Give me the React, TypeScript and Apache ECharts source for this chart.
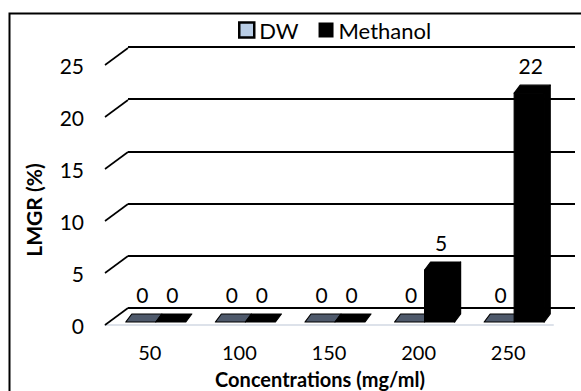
import React, { useEffect, useRef } from "react";
import * as echarts from "echarts";

const categories = ["50", "100", "150", "200", "250"];
const dwValues = [0, 0, 0, 0, 0];
const methanolValues = [0, 0, 0, 5, 22];
const yTicks = [0, 5, 10, 15, 20, 25];

const FONT = "Lato, 'Liberation Sans', sans-serif";

function barRenderer(side: number, fills: { front: string; side: string; top: string }, stroke: string) {
  return (params: any, api: any) => {
    const i = api.value(0);
    const v = api.value(1);
    const base = api.coord([i, 0]);
    const top = api.coord([i, v]);
    const band = api.size([1, 0])[0];
    const W = band * 0.335;
    const ox = 6, oy = -3, dx = 6, dy = -8;
    const xl = base[0] + ox + (side === 0 ? -W : 0);
    const xr = xl + W;
    const yb = base[1] + oy;
    const yt = top[1] + oy;
    const lineStyle = { stroke, lineWidth: 1.2, lineJoin: "round" };
    const children: any[] = [];
    if (yb - yt > 0.5) {
      children.push({
        type: "polygon",
        shape: { points: [[xl, yb], [xr, yb], [xr, yt], [xl, yt]] },
        style: { fill: fills.front, ...lineStyle },
      });
      children.push({
        type: "polygon",
        shape: { points: [[xr, yb], [xr + dx, yb + dy], [xr + dx, yt + dy], [xr, yt]] },
        style: { fill: fills.side, ...lineStyle },
      });
    }
    children.push({
      type: "polygon",
      shape: { points: [[xl, yt], [xr, yt], [xr + dx, yt + dy], [xl + dx, yt + dy]] },
      style: { fill: fills.top, ...lineStyle },
    });
    children.push({
      type: "text",
      style: {
        text: String(v),
        x: (xl + xr) / 2 + 1.5,
        y: yt - 28,
        fill: "#000",
        fontSize: 21,
        fontFamily: FONT,
        align: "center",
        verticalAlign: "middle",
      },
    });
    return { type: "group", children };
  };
}

export default function App() {
  const ref = useRef<HTMLDivElement>(null);
  useEffect(() => {
    document.body.style.margin = "0";
    const chart = echarts.init(ref.current!, null, { renderer: "svg" });
    const option: any = {
      animation: false,
      backgroundColor: "#fff",
      legend: {
        top: 14,
        left: 233,
        itemWidth: 15,
        itemHeight: 15,
        itemGap: 20,
        textStyle: { fontSize: 22, fontFamily: FONT, color: "#000" },
        data: [
          { name: "DW", icon: "rect", itemStyle: { color: "#b9cde5", borderColor: "#000", borderWidth: 2.5 } },
          { name: "Methanol", icon: "rect", itemStyle: { color: "#000" } },
        ],
      },
      grid: [
        { left: 105, right: 28, top: 65, bottom: 66 },
        { left: 128, right: 6, top: 47, bottom: 83 },
      ],
      xAxis: [
        {
          type: "category",
          gridIndex: 0,
          data: categories,
          axisLine: { show: true, lineStyle: { color: "#dde2ea", width: 2 } },
          axisTick: { show: false },
          axisLabel: { margin: 17, fontSize: 20, fontFamily: FONT, color: "#000" },
          splitLine: { show: false },
        },
        {
          type: "category",
          gridIndex: 1,
          data: categories,
          show: false,
        },
      ],
      yAxis: [
        {
          type: "value",
          gridIndex: 0,
          min: 0,
          max: 25,
          interval: 5,
          axisLine: { show: false },
          axisTick: { show: false },
          splitLine: { show: false },
          axisLabel: { margin: 21, fontSize: 21, fontFamily: FONT, color: "#000" },
        },
        {
          type: "value",
          gridIndex: 1,
          min: 0,
          max: 25,
          interval: 5,
          axisLine: { show: false },
          axisTick: { show: false },
          axisLabel: { show: false },
          splitLine: { show: true, lineStyle: { color: "#000", width: 2 } },
        },
      ],
      series: [
        {
          name: "walls",
          type: "custom",
          xAxisIndex: 0,
          yAxisIndex: 0,
          silent: true,
          z: 1,
          data: yTicks.map((t) => [0, t]),
          renderItem: (params: any, api: any) => {
            const cs = params.coordSys;
            const y = api.coord([0, api.value(1)])[1];
            return {
              type: "line",
              shape: { x1: cs.x, y1: y, x2: cs.x + 23, y2: y - 17 },
              style: { stroke: "#000", lineWidth: 1.6 },
            };
          },
        },
        {
          name: "DW",
          type: "custom",
          xAxisIndex: 0,
          yAxisIndex: 0,
          z: 5,
          itemStyle: { color: "#b9cde5" },
          data: dwValues.map((v, i) => [i, v]),
          renderItem: barRenderer(0, { front: "#8ea3bf", side: "#4e596b", top: "#4e596b" }, "#000"),
        },
        {
          name: "Methanol",
          type: "custom",
          xAxisIndex: 0,
          yAxisIndex: 0,
          z: 6,
          itemStyle: { color: "#000" },
          data: methanolValues.map((v, i) => [i, v]),
          renderItem: barRenderer(1, { front: "#000", side: "#000", top: "#000" }, "#000"),
        },
      ],
      graphic: [
        {
          type: "rect",
          z: 100,
          shape: { x: 9.5, y: 13.5, width: 620, height: 420 },
          style: { fill: "none", stroke: "#000", lineWidth: 2 },
        },
        {
          type: "text",
          z: 100,
          x: 33,
          y: 210,
          rotation: Math.PI / 2,
          style: {
            text: "LMGR (%)",
            fontSize: 21,
            fontWeight: "bold",
            fontFamily: FONT,
            fill: "#000",
            align: "center",
            verticalAlign: "middle",
          },
        },
        {
          type: "text",
          z: 100,
          x: 320,
          y: 379,
          style: {
            text: "Concentrations (mg/ml)",
            fontSize: 20,
            fontWeight: "bold",
            fontFamily: FONT,
            fill: "#000",
            align: "center",
            verticalAlign: "middle",
          },
        },
      ],
    };
    chart.setOption(option);
    return () => chart.dispose();
  }, []);
  return <div ref={ref} style={{ width: 581, height: 391 }} />;
}
